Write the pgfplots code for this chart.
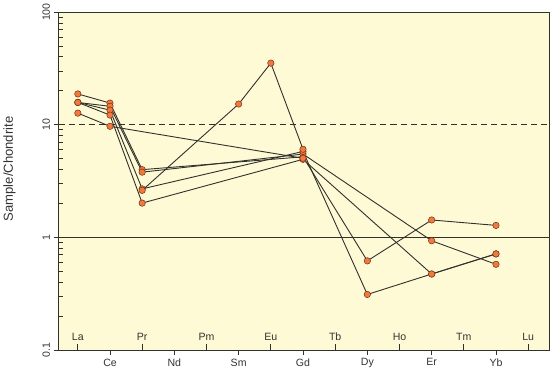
\documentclass[border=0pt]{standalone}
\usepackage{pgfplots}
\pgfplotsset{compat=1.18}
\usepackage{pgfplotstable}
\usepackage{fontspec}
\setmainfont{Liberation Sans}
\definecolor{bgy}{RGB}{254,250,214}
\definecolor{mk}{RGB}{240,122,62}
\definecolor{mkd}{RGB}{120,45,20}
\definecolor{ln}{RGB}{50,50,45}
\definecolor{ax}{RGB}{50,50,45}

% x: La=0 Ce=1 Pr=2 Nd=3 Pm=4 Sm=5 Eu=6 Gd=7 Tb=8 Dy=9 Ho=10 Er=11 Tm=12 Yb=13 Lu=14
\pgfplotstableread{
x y
0 18.8
1 15.6
2 4.0
7 5.2
9 0.62
11 1.43
13 1.28
}\sA
\pgfplotstableread{
x y
0 15.8
1 14.6
2 3.8
7 5.5
11 0.935
13 0.578
}\sB
\pgfplotstableread{
x y
0 15.8
1 13.5
2 2.7
7 5.8
9 0.312
11 0.474
13 0.715
}\sC
\pgfplotstableread{
x y
0 15.8
1 12.2
2 2.02
7 4.94
11 0.474
13 0.715
}\sD
\pgfplotstableread{
x y
0 12.7
1 9.7
7 5.05
}\sE
\pgfplotstableread{
x y
2 2.62
5 15.3
6 35.3
7 6.07
}\sF

\pgfplotsset{
  serline/.style={ln, line width=0.9pt, no marks, forget plot},
  sermark/.style={only marks, mark=*, mark size=3.2pt, mark options={fill=mk, draw=mkd, line width=0.5pt}, forget plot},
}

\begin{document}
\begin{tikzpicture}
\begin{axis}[
  scale only axis, width=488pt, height=336pt,
  ymode=log, ymin=0.1, ymax=100,
  xmin=-0.6, xmax=14.66,
  axis background/.style={fill=bgy},
  axis line style={draw=ax, line width=1.2pt},
  tick style={draw=ax, line width=1pt},
  tick pos=left,
  tick align=outside,
  major tick length=5pt,
  ytick={0.1,1,10,100}, yticklabels={0.1,1,10,100},
  yminorticks=false,
  yticklabel style={rotate=90, anchor=south, font=\fontsize{10.5}{12}\selectfont, text=black!80},
  extra y ticks={0.2,0.3,0.4,0.5,0.6,0.7,0.8,0.9,2,3,4,5,6,7,8,9,20,30,40,50,60,70,80,90},
  extra y tick labels={},
  extra y tick style={tick align=inside, major tick length=4.5pt, grid=none},
  xtick={1,3,5,7,9,11,13},
  xticklabels={Ce,Nd,Sm,Gd,Dy,Er,Yb},
  xticklabel style={font=\fontsize{10.5}{12}\selectfont, text=black!80},
  extra x ticks={0,2,4,6,8,10,12,14},
  extra x tick labels={La,Pr,Pm,Eu,Tb,Ho,Tm,Lu},
  extra x tick style={tick align=inside, major tick length=6.5pt, grid=none,
     xticklabel style={anchor=south, yshift=6pt}},
  ylabel={Sample/Chondrite},
  ylabel style={at={(axis description cs:-0.1,0.536)}, anchor=center, font=\fontsize{13}{15}\selectfont, text=black!80},
  clip=true,
]
\addplot[ln, line width=0.8pt, dash pattern=on 6pt off 4pt, forget plot] coordinates {(-0.6,10) (14.66,10)};
\addplot[ln, line width=0.9pt, forget plot] coordinates {(-0.6,1) (14.66,1)};

\addplot[serline] table {\sA};
\addplot[serline] table {\sB};
\addplot[serline] table {\sC};
\addplot[serline] table {\sD};
\addplot[serline] table {\sE};
\addplot[serline] table {\sF};

\addplot[sermark] table {\sA};
\addplot[sermark] table {\sB};
\addplot[sermark] table {\sC};
\addplot[sermark] table {\sD};
\addplot[sermark] table {\sE};
\addplot[sermark] table {\sF};
\end{axis}
\end{tikzpicture}
\end{document}
